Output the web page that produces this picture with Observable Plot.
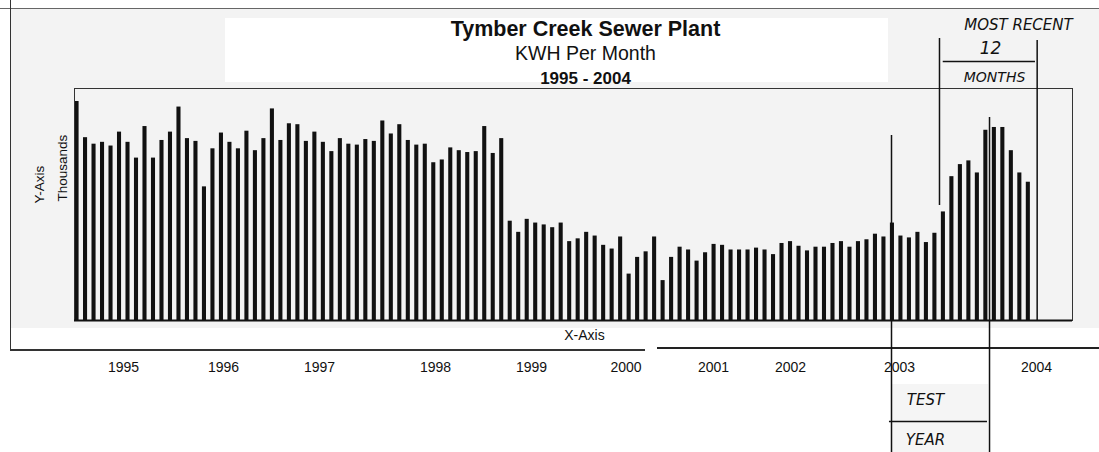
<!DOCTYPE html>
<html><head><meta charset="utf-8">
<script src="https://cdn.jsdelivr.net/npm/d3@7"></script>
<script src="https://cdn.jsdelivr.net/npm/@observablehq/plot@0.6"></script>
<style>
body{margin:0;background:#fff;}
#wrap{position:relative;width:1099px;height:452px;overflow:hidden;font-family:"Liberation Sans",Arial,sans-serif;}
.bg{position:absolute;}
#wrap svg{position:absolute;left:0;top:0;}
</style></head><body><div id="wrap">
<div class="bg" style="left:11px;top:9px;width:1088px;height:319px;background:#f3f3f3"></div>
<div class="bg" style="left:225px;top:18px;width:663px;height:64px;background:#fff"></div>
<div class="bg" style="left:892px;top:384px;width:96px;height:68px;background:#f5f5f5"></div>
<div class="bg" style="left:0;top:8px;width:1099px;height:1px;background:#666"></div>
<div class="bg" style="left:10px;top:0;width:1px;height:350px;background:#333"></div>
<div class="bg" style="left:10px;top:349px;width:635px;height:2px;background:#333"></div>
<div class="bg" style="left:657px;top:347px;width:442px;height:2px;background:#222"></div>
</div>
<script>
// Monthly KWH (thousands), Jan 1995 .. May 2004
const kwh = [
  236,197,190,192,188,203,192,175,209,175,194,203,
  230,196,193,144,185,202,192,185,204,183,196,228,
  194,212,211,193,203,192,182,196,190,189,195,193,
  215,201,211,194,189,190,170,173,186,183,181,182,
  209,180,196,107,95,109,105,103,100,105,85,88,
  95,91,81,77,90,50,68,74,90,43,68,79,
  76,64,73,82,81,76,76,76,78,76,71,83,
  85,80,75,79,79,83,85,79,85,87,93,90,
  105,91,89,95,84,94,117,155,168,172,159,205,
  208,208,183,159,149
];
// year tick labels and their positions (month index) as printed
const yearLabels = ["1995","1996","1997","1998","1999","2000","2001","2002","2003","2004"];
const yearPos = [5.47,17.24,28.55,42.2,53.5,64.64,74.93,84.0,96.83,112.96];

// handwritten annotations (month index, value units)
const annVLines = [
  {x:95.89, y1:199.4, y2:-142.2},
  {x:107.43, y1:218.8, y2:-142.2},
  {x:101.54, y1:303.9, y2:123.9},
  {x:113.04, y1:301.7, y2:0}
];
const annHLines = [
  {y:279.1, x1:101.98, x2:112.84},
  {y:-108.8, x1:95.65, x2:107.19}
];
const annTexts = [
  {x:110.84, y:317.9, t:"MOST RECENT", s:15},
  {x:107.55, y:293.1, t:"12", s:17},
  {x:108.02, y:261.3, t:"MONTHS", s:14},
  {x:99.89, y:-86.2, t:"TEST", s:15},
  {x:99.89, y:-129.3, t:"YEAR", s:15}
];

const bars = kwh.map((v,i)=>({i, v}));
const years = yearLabels.map((label,k)=>({label, pos: yearPos[k]}));

const chart = Plot.plot({
  width: 1099, height: 452,
  marginLeft: 74, marginRight: 27, marginTop: 88, marginBottom: 132,
  style: {background: "transparent", fontFamily: "'Liberation Sans', Arial, sans-serif", overflow: "visible"},
  x: {type: "linear", domain: [-0.3, 117.2], axis: null},
  y: {domain: [0, 250], axis: null},
  marks: [
    Plot.rectY(bars, {x1: d => d.i - 0.24, x2: d => d.i + 0.24, y: "v", fill: "#111"}),
    Plot.frame({stroke: "#333", strokeWidth: 1}),
    Plot.ruleY([0], {stroke: "#111", strokeWidth: 2}),
    // titles
    Plot.text(["Tymber Creek Sewer Plant"], {frameAnchor: "top", dx: 12, dy: -53, lineAnchor: "bottom", fontSize: 21.5, fontWeight: "bold", fill: "#111"}),
    Plot.text(["KWH Per Month"], {frameAnchor: "top", dx: 12, dy: -29, lineAnchor: "bottom", fontSize: 19.5, fill: "#111"}),
    Plot.text(["1995 - 2004"], {frameAnchor: "top", dx: 12, dy: -5, lineAnchor: "bottom", fontSize: 17, fontWeight: "bold", fill: "#111"}),
    // axis labels
    Plot.text(["X-Axis"], {frameAnchor: "bottom", dx: 11, dy: 19, lineAnchor: "bottom", fontSize: 14, fill: "#111"}),
    Plot.text(["Y-Axis"], {frameAnchor: "left", dx: -35, dy: -1, rotate: -90, fontSize: 13.5, fill: "#111"}),
    Plot.text(["Thousands"], {frameAnchor: "left", dx: -12, dy: -3, rotate: -90, fontSize: 13.5, fill: "#111"}),
    // year labels
    Plot.text(years, {x: "pos", text: "label", frameAnchor: "bottom", dy: 51, lineAnchor: "bottom", fontSize: 14, fill: "#111"}),
    // handwritten annotations
    Plot.ruleX(annVLines, {x: "x", y1: "y1", y2: "y2", stroke: "#111", strokeWidth: 1.5}),
    Plot.ruleY(annHLines, {y: "y", x1: "x1", x2: "x2", stroke: "#111", strokeWidth: 1.5}),
    Plot.text(annTexts, {x: "x", y: "y", text: "t", fontSize: d => d.s, fontStyle: "italic", fontFamily: "'DejaVu Sans', sans-serif", fill: "#111", letterSpacing: 2})
  ]
});
document.getElementById("wrap").appendChild(chart);
</script>
</body></html>
